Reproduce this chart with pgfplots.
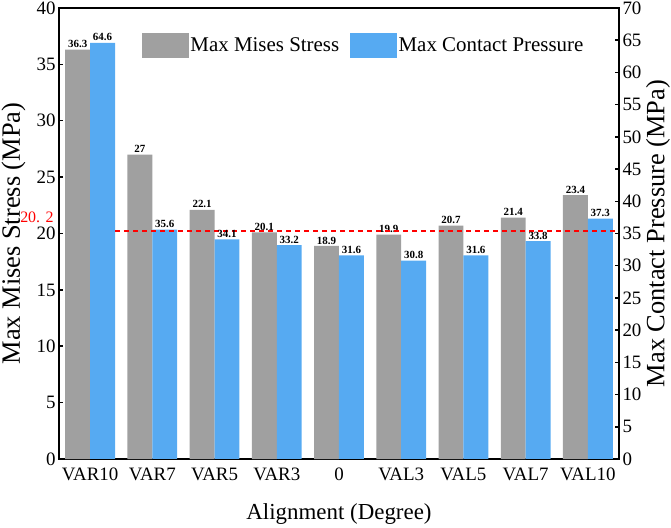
\documentclass[border=0pt]{standalone}
\usepackage{fontspec}
\setmainfont{Liberation Serif}
\usepackage{pgfplots}
\pgfplotsset{compat=1.18}
\definecolor{mygray}{RGB}{160,160,160}
\definecolor{myblue}{RGB}{86,170,242}
\begin{document}
\begin{tikzpicture}
\pgfplotsset{
  common/.style={
    width=560bp, height=451bp, scale only axis,
    at={(0,0)}, anchor=south west,
    xmin=-0.5, xmax=8.5,
    /pgf/number format/assume math mode=true,
    tick label style={font=\fontsize{19}{19}\selectfont},
    axis line style={line width=2.5bp},
    major tick length=4bp, tick align=inside,
    tick style={line width=1.5bp, black},
  }
}
\begin{axis}[common,
  clip=false,
  ymin=0, ymax=40, ytick={0,5,...,40},
  ytick pos=left, xtick pos=bottom,
  xtick={0,...,8},
  xticklabels={VAR10,VAR7,VAR5,VAR3,0,VAL3,VAL5,VAL7,VAL10},
  xtick style={draw=none},
  xticklabel style={yshift=-5bp},
  xlabel={Alignment (Degree)},
  ylabel={Max Mises Stress (MPa)},
  every axis x label/.style={at={(rel axis cs:0.5,0)}, anchor=center, yshift=-55bp, font=\fontsize{23}{23}\selectfont},
  every axis y label/.style={at={(rel axis cs:0,0.5)}, anchor=base, xshift=-39bp, rotate=90, font=\fontsize{26.5}{26.5}\selectfont},
  legend columns=2,
  legend style={at={(0.148,0.918)}, anchor=west, draw=none, fill=none, inner sep=0pt,
    font=\fontsize{21}{21}\selectfont,
    /tikz/every even column/.append style={column sep=9bp}},
  legend cell align=left,
]
\addplot[ybar, bar width=0.4, bar shift=-0.2, fill=mygray, draw=none, forget plot,
  nodes near coords,
  nodes near coords style={font=\bfseries\fontsize{11}{11}\selectfont, inner sep=1.5bp, black, xshift=-12.44bp}]
  coordinates {(0,36.3) (1,27) (2,22.1) (3,20.1) (4,18.9) (5,19.9) (6,20.7) (7,21.4) (8,23.4)};
\addlegendimage{legend image code/.code={\fill[mygray] (0bp,-12bp) rectangle (46bp,12bp);}}
\addlegendentry{Max Mises Stress}
\addlegendimage{legend image code/.code={\fill[myblue] (0bp,-12bp) rectangle (46bp,12bp);}}
\addlegendentry{Max Contact Pressure}
\node[red, anchor=base east, font=\fontsize{16}{16}\selectfont, xshift=-2bp] at (axis cs:-0.5,21.0) {20. 2};
\end{axis}
\begin{axis}[common,
  ymin=0, ymax=70, ytick={0,5,...,70},
  axis y line*=right, axis x line=none,
  ylabel={Max Contact Pressure (MPa)},
  every axis y label/.style={at={(rel axis cs:1,0.5)}, anchor=center, xshift=39bp, rotate=90, font=\fontsize{26.5}{26.5}\selectfont},
]
\addplot[ybar, bar width=0.4, bar shift=0.2, fill=myblue, draw=none,
  nodes near coords,
  nodes near coords style={font=\bfseries\fontsize{11}{11}\selectfont, inner sep=1.5bp, black, xshift=12.44bp}]
  coordinates {(0,64.6) (1,35.6) (2,34.1) (3,33.2) (4,31.6) (5,30.8) (6,31.6) (7,33.8) (8,37.3)};
\addplot[red, dashed, line width=1.5bp, dash pattern=on 5bp off 4bp] coordinates {(0.4,35.35) (8.5,35.35)};
\end{axis}
\pgfresetboundingbox
\path[use as bounding box] (-59bp,-69bp) rectangle (612bp,459bp);
\end{tikzpicture}
\end{document}
